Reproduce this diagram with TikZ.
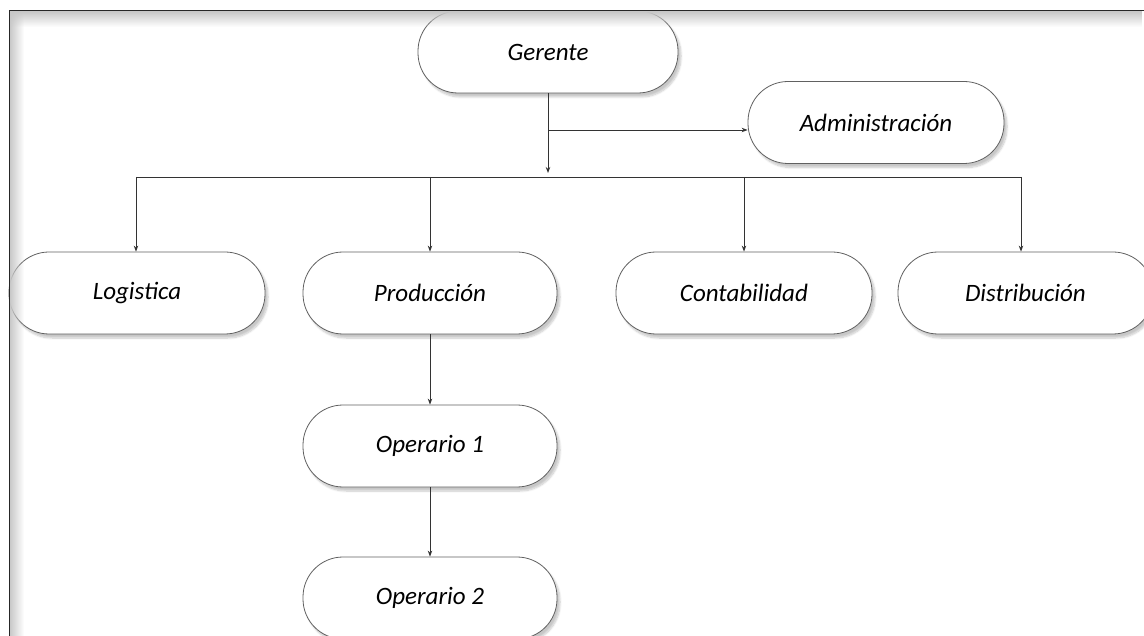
\documentclass[tikz,border=0pt]{standalone}
\usepackage{fontspec}
\setmainfont{Carlito}
\usetikzlibrary{arrows.meta,shadows.blur,fadings,calc}

\tikzfading[name=fadedown, top color=transparent!0, bottom color=transparent!100]
\tikzfading[name=faderight, left color=transparent!0, right color=transparent!100]

\begin{document}
\begin{tikzpicture}[x=1pt, y=-1pt,
  unit/.style={draw=black!62, line width=0.8pt, fill=white,
    rounded corners=40pt, minimum width=256pt, minimum height=82pt,
    inner sep=0pt, font=\fontsize{25}{30}\selectfont\itshape,
    blur shadow={shadow xshift=3pt, shadow yshift=-4pt,
      shadow opacity=22, shadow blur steps=8, shadow blur extra rounding=4pt}},
  link/.style={draw=black!80, line width=0.9pt},
  arrowlink/.style={link, -{Stealth[length=6pt, width=4.5pt]}}]

\useasboundingbox (0,0) rectangle (1144,636);
\clip (0,0) rectangle (1144,636);

% units
\node[unit, minimum width=260pt] (ger) at (548,52) {Gerente};
\node[unit] (adm) at (876,122.5) {Administración};
\node[unit] (log) at (137,293) {Logistica};
\node[unit, minimum width=254pt] (pro) at (430,293) {Producción};
\node[unit] (con) at (744,293) {Contabilidad};
\node[unit, minimum width=255pt] (dis) at (1025.5,293) {Distribución};
\node[unit, minimum width=254pt] (op1) at (430,446) {Operario 1};
\node[unit, minimum width=254pt] (op2) at (430,598) {Operario 2};

% connectors
\coordinate (gbus) at (548,173);
\coordinate (gadm) at (548,130);
\coordinate (busL) at (136,177);
\coordinate (busR) at (1021,177);

\draw[arrowlink] (ger.south) -- (gbus);
\draw[arrowlink] (gadm) -- (adm.west |- gadm);
\draw[link] (busL) -- (busR);
\draw[arrowlink] (busL) -- (busL |- log.north);
\draw[arrowlink] (pro.north |- busL) -- (pro.north);
\draw[arrowlink] (con.north |- busL) -- (con.north);
\draw[arrowlink] (busR) -- (busR |- dis.north);
\draw[arrowlink] (pro.south) -- (op1.north);
\draw[arrowlink] (op1.south) -- (op2.north);

% page frame with its inner shade
\fill[black!22, path fading=fadedown] (9.5,11.5) rectangle (1144,27);
\fill[black!22, path fading=faderight] (9.5,11.5) rectangle (24,636);
\draw[line width=1pt, black!85] (9,636) -- (9,11) -- (1144,11);
\end{tikzpicture}
\end{document}
